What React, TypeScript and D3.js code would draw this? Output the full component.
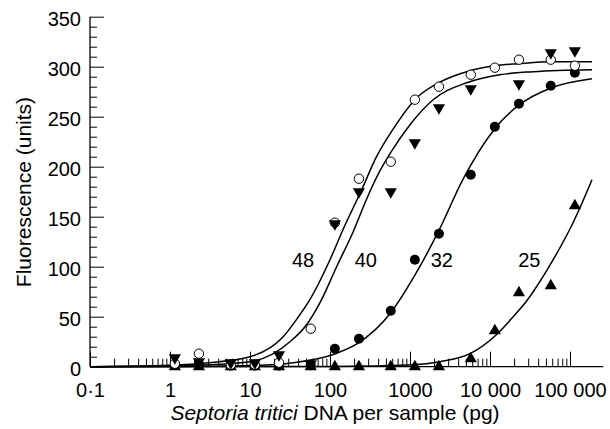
import React, { useRef, useEffect } from "react";
import * as d3 from "d3";

// doses (pg) and fluorescence readings per cycle number
const doses = [1.15, 2.3, 5.75, 11.5, 23, 57.5, 115, 230, 575, 1150, 2300, 5750, 11500, 23000, 57500, 115000];
const open48 = [3, 13, 2, 2, 4, 38, 144, 188, 205, 267, 280, 292, 299, 307, 307, 301];
const tri40 = [9, 5, 4, 4, 12, 3, 143, 175, 175, 224, 259, 278, null, 283, 314, 316];
const fill32 = [2, 2, 1, 1, 1, 2, 18, 28, 56, 107, 133, 192, 240, 263, 281, 294];
const tri25 = [0, 0, 0, 0, 0, 0, 0, 0, 0, 0, 0, 8, 36, 74, 81, 161];

// fitted curves
const curve48X = [0.1, 1, 3.02, 10, 26, 38, 56, 100, 147, 249, 376, 682, 1148, 2291, 5623, 11482, 22387, 58884, 188365];
const curve48Y = [0, 1.5, 4, 10, 30, 47, 67, 107, 138, 177, 209, 243, 267, 284, 296, 301, 303, 305, 305];
const curve40X = [0.1, 1, 3, 10, 31.6, 51, 75, 121, 195, 288, 422, 562, 1000, 1950, 5130, 13300, 34700, 188365];
const curve40Y = [0, 1, 2, 5, 25, 42, 64, 100, 135, 168, 196, 213, 242, 267, 284, 292, 295, 297];
const curve32X = [0.1, 1, 10, 34.7, 117, 219, 575, 1122, 2291, 4571, 11482, 22387, 58884, 188365];
const curve32Y = [0, 0.2, 1.2, 4, 13, 23, 54, 90, 136, 187, 238, 261, 279, 288];
const curve25X = [0.1, 100, 1096, 2371, 5623, 12023, 19498, 28840, 34674, 61660, 112200, 188365];
const curve25Y = [0, 0.3, 2, 5, 13, 32, 50, 66, 75, 107, 146, 187];

const labelText = ["48", "40", "32", "25"];
const labelDose = [46, 280, 2500, 31000];
const labelLevel = 100;

const xMajor = [0.1, 1, 10, 100, 1000, 10000, 100000];
const xLabels = ["0·1", "1", "10", "100", "1000", "10 000", "100 000"];
const yMajor = [0, 50, 100, 150, 200, 250, 300, 350];
const xEnd = 260000;

const font = "'Liberation Sans', Arial, Helvetica, sans-serif";

export default function App() {
  const ref = useRef<SVGSVGElement>(null);

  useEffect(() => {
    const svg = d3.select(ref.current);
    svg.selectAll("*").remove();

    const x = d3.scaleLog().domain([0.1, 100000]).range([90, 570]);
    const y = d3.scaleLinear().domain([0, 350]).range([366.7, 16.7]);

    const isMajor = (v: number) => {
      const lead = v / Math.pow(10, Math.floor(Math.log10(v) + 1e-9));
      return Math.abs(lead - 1) < 1e-6;
    };
    const minorX = x.ticks().filter(v => !isMajor(v));
    const minorY = y.ticks(35).filter(v => v % 50 !== 0);

    // x minor ticks
    svg.append("g")
      .attr("transform", `translate(0,${y(0)})`)
      .call(d3.axisBottom(x).tickValues(minorX).tickSize(-8).tickFormat(() => ""))
      .call(g => g.select(".domain").remove());

    // x major ticks + labels
    svg.append("g")
      .attr("transform", `translate(0,${y(0)})`)
      .call(d3.axisBottom(x).tickValues(xMajor).tickSize(-15).tickPadding(16)
        .tickFormat((d, i) => xLabels[i]))
      .call(g => g.select(".domain").remove())
      .attr("font-size", 20)
      .attr("font-family", font);

    // y minor ticks
    svg.append("g")
      .attr("transform", `translate(${x(0.1)},0)`)
      .call(d3.axisLeft(y).tickValues(minorY).tickSize(-7).tickFormat(() => ""))
      .call(g => g.select(".domain").remove());

    // y major ticks + labels
    svg.append("g")
      .attr("transform", `translate(${x(0.1)},0)`)
      .call(d3.axisLeft(y).tickValues(yMajor).tickSize(-14).tickPadding(9))
      .call(g => g.select(".domain").remove())
      .call(g => g.selectAll("text").attr("dy", "0.45em"))
      .attr("font-size", 20)
      .attr("font-family", font);

    svg.selectAll(".tick line").attr("stroke", "#000").attr("stroke-width", 1);

    // axis lines
    svg.append("line")
      .attr("x1", x(0.1)).attr("x2", x(0.1))
      .attr("y1", y(0)).attr("y2", y(350))
      .attr("stroke", "#000").attr("stroke-width", 1.3);
    svg.append("line")
      .attr("x1", x(0.1)).attr("x2", x(xEnd))
      .attr("y1", y(0)).attr("y2", y(0))
      .attr("stroke", "#000").attr("stroke-width", 1.3);

    // fitted curves
    const line = d3.line<[number, number]>()
      .x(d => x(d[0]))
      .y(d => y(d[1]))
      .curve(d3.curveMonotoneX);

    [[curve48X, curve48Y], [curve40X, curve40Y], [curve32X, curve32Y], [curve25X, curve25Y]]
      .forEach(([cx, cy]) => {
        svg.append("path")
          .datum(cx.map((v, i) => [v, cy[i]] as [number, number]))
          .attr("d", line)
          .attr("fill", "none")
          .attr("stroke", "#000")
          .attr("stroke-width", 1.5);
      });

    const pts = (vals: (number | null)[]) =>
      doses.map((d, i) => ({ d, v: vals[i] })).filter(p => p.v !== null) as { d: number; v: number }[];

    const tri = d3.symbol().type(d3.symbolTriangle).size(64);

    // filled circles (32)
    svg.append("g").selectAll("circle")
      .data(pts(fill32))
      .join("circle")
      .attr("cx", p => x(p.d))
      .attr("cy", p => y(p.v))
      .attr("r", 5)
      .attr("fill", "#000");

    // up triangles (25)
    svg.append("g").selectAll("path")
      .data(pts(tri25))
      .join("path")
      .attr("d", tri)
      .attr("transform", p => `translate(${x(p.d)},${y(p.v)})`)
      .attr("fill", "#000");

    // open circles (48)
    svg.append("g").selectAll("circle")
      .data(pts(open48))
      .join("circle")
      .attr("cx", p => x(p.d))
      .attr("cy", p => y(p.v))
      .attr("r", 4.7)
      .attr("fill", "#fff")
      .attr("stroke", "#000")
      .attr("stroke-width", 1);

    // down triangles (40)
    svg.append("g").selectAll("path")
      .data(pts(tri40))
      .join("path")
      .attr("d", tri)
      .attr("transform", p => `translate(${x(p.d)},${y(p.v)}) rotate(180)`)
      .attr("fill", "#000");

    // curve labels
    svg.append("g").selectAll("text")
      .data(labelText)
      .join("text")
      .attr("x", (t, i) => x(labelDose[i]))
      .attr("y", y(labelLevel))
      .attr("text-anchor", "middle")
      .attr("font-family", font)
      .attr("font-size", 20)
      .text(t => t);

    // axis titles
    svg.append("text")
      .attr("transform", `translate(31,192) rotate(-90)`)
      .attr("text-anchor", "middle")
      .attr("font-family", font)
      .attr("font-size", 21)
      .text("Fluorescence (units)");

    const xt = svg.append("text")
      .attr("x", 335)
      .attr("y", 420)
      .attr("text-anchor", "middle")
      .attr("font-family", font)
      .attr("font-size", 21);
    xt.append("tspan").attr("font-style", "italic").text("Septoria tritici");
    xt.append("tspan").text(" DNA per sample (pg)");
  }, []);

  return (
    <svg
      ref={ref}
      width={610}
      height={429}
      style={{ position: "absolute", left: 0, top: 0, background: "#fff" }}
    />
  );
}
